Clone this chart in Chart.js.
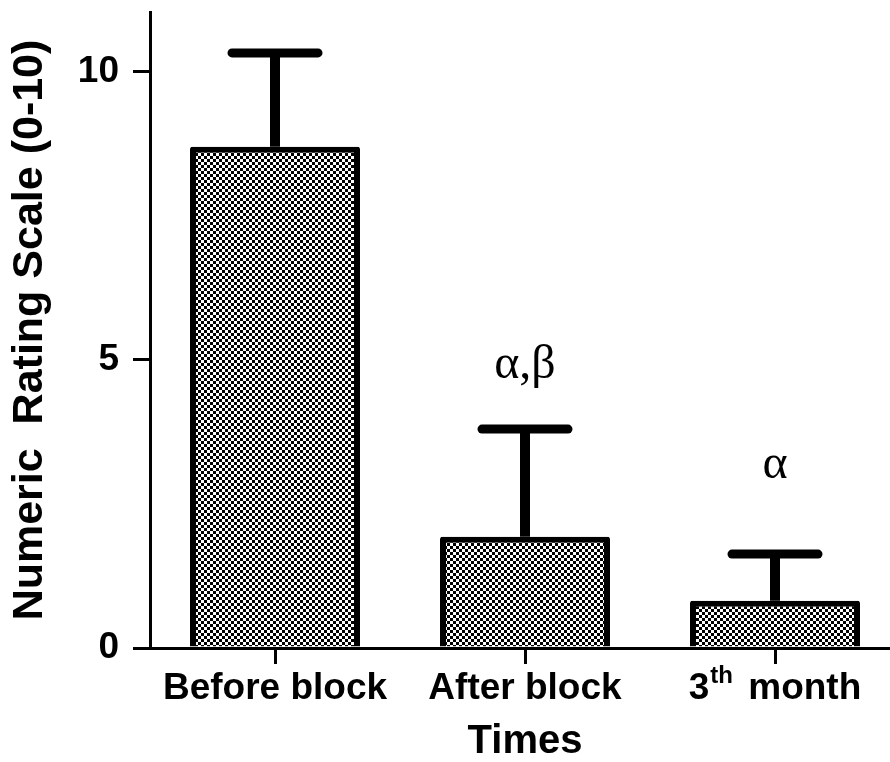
<!DOCTYPE html>
<html>
<head>
<meta charset="utf-8">
<script src="https://cdn.jsdelivr.net/npm/chart.js@4/dist/chart.umd.min.js"></script>
<style>
  html, body { margin: 0; padding: 0; background: #fff; overflow: hidden; width: 890px; height: 762px; }
  #c { display: block; }
</style>
</head>
<body>
<canvas id="c" width="900" height="762"></canvas>
<script>
// ---- data ----
const categories = ['Before block', 'After block', '3th month'];
const means = [8.70, 1.93, 0.82];
const errorTops = [10.33, 3.80, 1.63];
const sigLabels = ['', 'α,β', 'α'];
const sigLabelY = [null, 4.69, 2.95];
const yTicks = [0, 5, 10];
const yMax = 11.04;

// checkerboard pattern
function makePattern() {
  const p = document.createElement('canvas');
  p.width = 6; p.height = 6;
  const g = p.getContext('2d');
  g.fillStyle = '#fff'; g.fillRect(0, 0, 6, 6);
  g.fillStyle = '#000';
  g.fillRect(0, 0, 3, 3);
  g.fillRect(3, 3, 3, 3);
  return document.getElementById('c').getContext('2d').createPattern(p, 'repeat');
}
const pattern = makePattern();

const overlay = {
  id: 'overlay',
  afterDatasetsDraw(chart) {
    const ctx = chart.ctx;
    const x = chart.scales.x, y = chart.scales.y;
    ctx.save();
    ctx.strokeStyle = '#000';
    // error bars
    errorTops.forEach((v, i) => {
      const cx = x.getPixelForValue(i);
      const yb = y.getPixelForValue(means[i]);
      const yt = y.getPixelForValue(v);
      ctx.lineWidth = 10;
      ctx.lineCap = 'butt';
      ctx.beginPath(); ctx.moveTo(cx, yb); ctx.lineTo(cx, yt); ctx.stroke();
      ctx.lineWidth = 9;
      ctx.lineCap = 'round';
      ctx.beginPath(); ctx.moveTo(cx - 43, yt); ctx.lineTo(cx + 43, yt); ctx.stroke();
    });
    // significance labels
    ctx.fillStyle = '#000';
    ctx.font = '48px "Liberation Serif", "Times New Roman", serif';
    ctx.textAlign = 'center';
    ctx.textBaseline = 'alphabetic';
    sigLabels.forEach((t, i) => {
      if (!t) return;
      ctx.fillText(t, x.getPixelForValue(i), y.getPixelForValue(sigLabelY[i]));
    });
    // x category labels (with superscript for "3th")
    const base = 699;
    const big = 'bold 37px "Liberation Sans", Arial, sans-serif';
    const small = 'bold 24px "Liberation Sans", Arial, sans-serif';
    categories.forEach((t, i) => {
      const cx = x.getPixelForValue(i);
      const m = t.match(/^(\d+)(th|st|nd|rd)(\s.*)$/);
      if (m) {
        ctx.font = big; const w1 = ctx.measureText(m[1]).width;
        const w3 = ctx.measureText(m[3]).width;
        ctx.font = small; const w2 = ctx.measureText(m[2]).width;
        let sx = cx - (w1 + w2 + w3 + 6) / 2;
        ctx.textAlign = 'left';
        ctx.font = big; ctx.fillText(m[1], sx, base); sx += w1 + 1;
        ctx.font = small; ctx.fillText(m[2], sx, base - 16); sx += w2 + 5;
        ctx.font = big; ctx.fillText(m[3], sx, base);
      } else {
        ctx.font = big; ctx.textAlign = 'center';
        ctx.fillText(t, cx, base);
      }
    });
    ctx.restore();
  }
};

new Chart(document.getElementById('c'), {
  type: 'bar',
  data: {
    labels: categories,
    datasets: [{
      data: means,
      backgroundColor: pattern,
      borderColor: '#000',
      borderWidth: 6,
      borderRadius: 2,
      borderSkipped: 'start',
      barPercentage: 0.68,
      categoryPercentage: 1.0
    }]
  },
  options: {
    responsive: false,
    animation: false,
    devicePixelRatio: 1,
    layout: { padding: { top: 12, right: 0, left: 0, bottom: 0 } },
    plugins: { legend: { display: false }, tooltip: { enabled: false } },
    scales: {
      x: {
        offset: true,
        grid: { display: true, drawOnChartArea: false, drawTicks: true, offset: false, tickLength: 16, tickWidth: 3, tickColor: '#000', color: '#000' },
        border: { display: true, color: '#000', width: 3 },
        ticks: { color: 'rgba(0,0,0,0)', font: { size: 37, weight: 'bold', family: '"Liberation Sans", Arial, sans-serif' }, maxRotation: 0 },
        title: { display: true, text: 'Times', color: '#000', font: { size: 40, weight: 'bold', lineHeight: 1, family: '"Liberation Sans", Arial, sans-serif' }, padding: { top: 0, bottom: 0 } },
        afterFit(s) { s.height = 114; s.paddingLeft = 0; s.paddingRight = 0; }
      },
      y: {
        min: 0, max: yMax,
        afterBuildTicks(s) { s.ticks = yTicks.map(v => ({ value: v })); },
        grid: { display: true, drawOnChartArea: false, drawTicks: true, tickLength: 17, lineWidth: 3, tickWidth: 3, tickColor: '#000', color: '#000' },
        border: { display: true, color: '#000', width: 3 },
        ticks: { color: '#000', padding: 14, font: { size: 37, weight: 'bold', family: '"Liberation Sans", Arial, sans-serif' } },
        title: { display: true, text: 'Numeric  Rating Scale (0-10)', color: '#000', font: { size: 43, weight: 'bold', lineHeight: 1.1, family: '"Liberation Sans", Arial, sans-serif' }, padding: { top: 6, bottom: 0 } },
        afterFit(s) { s.width = 150; s.paddingTop = 0; s.paddingBottom = 0; }
      }
    }
  },
  plugins: [overlay]
});
</script>
</body>
</html>
